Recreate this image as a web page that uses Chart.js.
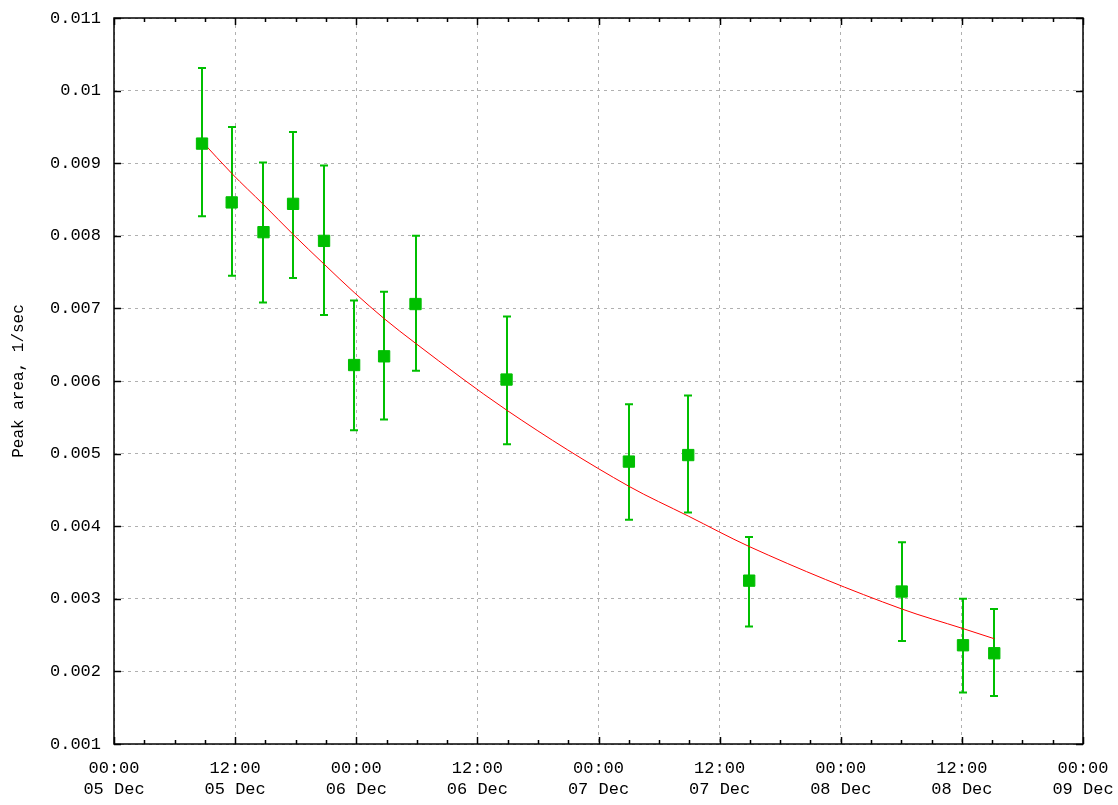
<!DOCTYPE html>
<html>
<head>
<meta charset="utf-8">
<script src="https://cdn.jsdelivr.net/npm/chart.js@4.4.1/dist/chart.umd.min.js"></script>
<style>
  html, body { margin: 0; padding: 0; background: #fff; }
  #wrap { width: 1118px; height: 805px; }
</style>
</head>
<body>
<div id="wrap"><canvas id="peakChart"></canvas></div>
<script>
// Measurements: hours since 05 Dec 00:00
const hours = [8.72, 11.66, 14.81, 17.74, 20.81, 23.79, 26.76, 29.87, 38.89, 51.01, 56.89, 62.93, 78.04, 84.11, 87.21];
const peakArea = [0.00927, 0.00846, 0.00805, 0.00844, 0.00793, 0.00622, 0.00634, 0.00706, 0.00602, 0.00489, 0.00498, 0.00325, 0.00310, 0.00236, 0.00225];
const errHigh = [0.01031, 0.00950, 0.00901, 0.00943, 0.00897, 0.00711, 0.00723, 0.00800, 0.00689, 0.00568, 0.00580, 0.00385, 0.00378, 0.00300, 0.00286];
const errLow = [0.00827, 0.00745, 0.00708, 0.00742, 0.00691, 0.00532, 0.00547, 0.00614, 0.00513, 0.00409, 0.00419, 0.00262, 0.00242, 0.00171, 0.00166];

// Fitted curve
const fitHours = [8.72, 11.66, 14.81, 17.74, 20.81, 23.79, 26.76, 29.87, 38.89, 51.01, 56.89, 62.93, 78.04, 84.11, 87.21];
const fitValues = [0.00930, 0.00886, 0.00843, 0.00802, 0.00761, 0.00722, 0.00686, 0.00652, 0.00560, 0.00455, 0.00414, 0.00372, 0.00286, 0.00259, 0.00245];

// Axis labels
const xTickTimes = ['00:00', '12:00', '00:00', '12:00', '00:00', '12:00', '00:00', '12:00', '00:00'];
const xTickDays = ['05 Dec', '05 Dec', '06 Dec', '06 Dec', '07 Dec', '07 Dec', '08 Dec', '08 Dec', '09 Dec'];
const yTickLabels = ['0.001', '0.002', '0.003', '0.004', '0.005', '0.006', '0.007', '0.008', '0.009', '0.01', '0.011'];

const green = '#00bf00';
const tickFont = { family: "'Liberation Mono', 'DejaVu Sans Mono', monospace", size: 17, lineHeight: 1.25 };

// error bars, frame and inward ticks
const gnuplotLook = {
    id: 'gnuplotLook',
    beforeDatasetsDraw(chart) {
        const ctx = chart.ctx;
        const xs = chart.scales.x, ys = chart.scales.y;
        ctx.save();
        ctx.strokeStyle = green;
        ctx.lineWidth = 2;
        for (let i = 0; i < hours.length; i++) {
            const px = Math.round(xs.getPixelForValue(hours[i]));
            const top = ys.getPixelForValue(errHigh[i]);
            const bot = ys.getPixelForValue(errLow[i]);
            ctx.beginPath();
            ctx.moveTo(px, top);
            ctx.lineTo(px, bot);
            ctx.moveTo(px - 4, top);
            ctx.lineTo(px + 4, top);
            ctx.moveTo(px - 4, bot);
            ctx.lineTo(px + 4, bot);
            ctx.stroke();
        }
        ctx.restore();
    },
    afterDraw(chart) {
        const ctx = chart.ctx;
        const a = chart.chartArea;
        const xs = chart.scales.x, ys = chart.scales.y;
        ctx.save();
        ctx.strokeStyle = '#000';
        ctx.lineWidth = 1.5;
        ctx.beginPath();
        // x ticks every 3 hours, major every 12
        for (let h = 0; h <= 96; h += 3) {
            const px = Math.round(xs.getPixelForValue(h)) + 0.5;
            const len = h % 12 === 0 ? 7 : 4;
            ctx.moveTo(px, a.bottom);
            ctx.lineTo(px, a.bottom - len);
            ctx.moveTo(px, a.top);
            ctx.lineTo(px, a.top + len);
        }
        ys.ticks.forEach(t => {
            const py = Math.round(ys.getPixelForValue(t.value)) + 0.5;
            ctx.moveTo(a.left, py);
            ctx.lineTo(a.left + 7, py);
            ctx.moveTo(a.right, py);
            ctx.lineTo(a.right - 7, py);
        });
        ctx.stroke();
        ctx.strokeRect(a.left, a.top, a.right - a.left, a.bottom - a.top);
        ctx.restore();
    }
};

const ctx = document.getElementById('peakChart').getContext('2d');
const peakChart = new Chart(ctx, {
    type: 'scatter',
    data: {
        datasets: [{
            label: 'Peak area',
            data: hours.map((h, i) => ({ x: h, y: peakArea[i] })),
            pointStyle: 'rect',
            pointRadius: 8,
            pointHoverRadius: 8,
            backgroundColor: green,
            borderColor: green,
            borderWidth: 1,
            showLine: false
        }, {
            label: 'Fit',
            data: fitHours.map((h, i) => ({ x: h, y: fitValues[i] })),
            showLine: true,
            borderColor: '#ff0000',
            borderWidth: 1,
            pointRadius: 0,
            pointHoverRadius: 0,
            cubicInterpolationMode: 'monotone',
            fill: false
        }]
    },
    options: {
        responsive: true,
        maintainAspectRatio: false,
        animation: false,
        layout: { padding: { left: 0, right: 35, top: 18, bottom: 0 } },
        plugins: {
            legend: { display: false },
            tooltip: { enabled: false }
        },
        scales: {
            x: {
                type: 'linear',
                min: 0,
                max: 96,
                afterFit: s => { s.height = 61; s.paddingLeft = 0; s.paddingRight = 0; },
                ticks: {
                    stepSize: 12,
                    color: '#000',
                    font: tickFont,
                    padding: 14,
                    maxRotation: 0,
                    autoSkip: false,
                    callback: (value, index) => [xTickTimes[index], xTickDays[index]]
                },
                grid: { color: '#b0b0b0', lineWidth: 1, drawTicks: false },
                border: { display: false, dash: [3, 4] }
            },
            y: {
                min: 0.001,
                max: 0.011,
                afterFit: s => { s.width = 114; s.paddingTop = 0; s.paddingBottom = 0; },
                ticks: {
                    stepSize: 0.001,
                    color: '#000',
                    font: tickFont,
                    padding: 13,
                    autoSkip: false,
                    callback: (value, index) => yTickLabels[index]
                },
                grid: { color: '#b0b0b0', lineWidth: 1, drawTicks: false },
                border: { display: false, dash: [3, 4] },
                title: {
                    display: true,
                    text: 'Peak area, 1/sec',
                    color: '#000',
                    font: { family: "'Liberation Mono', 'DejaVu Sans Mono', monospace", size: 16 },
                    padding: { top: 9, bottom: 0 }
                }
            }
        }
    },
    plugins: [gnuplotLook]
});
</script>
</body>
</html>
